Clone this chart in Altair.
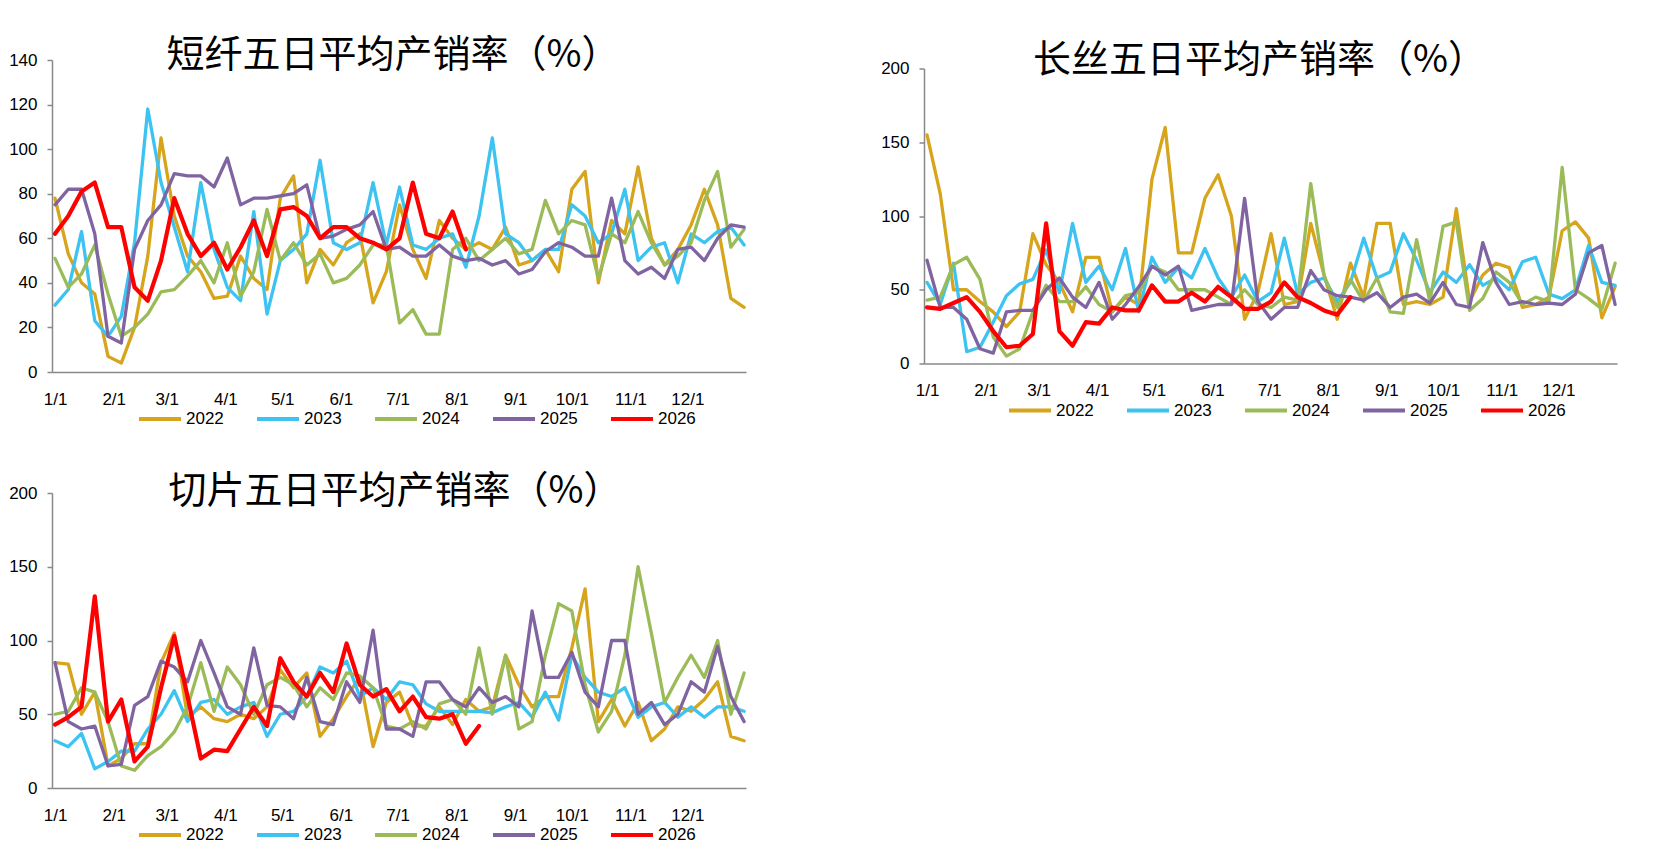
import altair as alt
import pandas as pd

# ---- shared axes / categories ----
DAYS = list(range(0, 365, 7))  # day-of-year sample points (0 = 1/1)
YEARS = ["2022", "2023", "2024", "2025", "2026"]
COLORS = ["#D6A51C", "#3DC3F1", "#9BBB59", "#8064A2", "#FF0000"]
MONTH_TICKS = [0, 31, 59, 90, 120, 151, 181, 212, 243, 273, 304, 334]
TITLES = ["短纤五日平均产销率（%）", "长丝五日平均产销率（%）", "切片五日平均产销率（%）"]

# ---- 短纤 (PSF) ----
PSF_2022 = [78, 53, 40, 35, 7, 4, 20, 52, 105, 70, 52, 45, 33, 34, 52, 42, 37, 78, 88, 40,
            55, 48, 58, 62, 31, 45, 75, 55, 42, 68, 60, 55, 58, 55, 65, 48, 50, 55, 45, 82,
            90, 40, 68, 62, 92, 60, 48, 55, 66, 82, 66, 33, 29]
PSF_2023 = [30, 37, 63, 23, 16, 25, 58, 118, 85, 65, 45, 85, 55, 38, 32, 72, 26, 50, 55, 62,
            95, 58, 55, 58, 85, 57, 83, 57, 55, 60, 62, 47, 70, 105, 62, 58, 50, 55, 55, 75,
            70, 58, 62, 82, 50, 56, 58, 40, 62, 58, 63, 65, 57]
PSF_2024 = [51, 38, 44, 57, 35, 16, 20, 26, 36, 37, 43, 50, 40, 58, 34, 45, 73, 50, 58, 48,
            53, 40, 42, 48, 57, 57, 22, 28, 17, 17, 55, 60, 50, 55, 60, 53, 55, 77, 62, 68,
            66, 42, 62, 58, 72, 58, 48, 52, 58, 77, 90, 56, 64]
PSF_2025 = [75, 82, 82, 62, 16, 13, 55, 68, 75, 89, 88, 88, 83, 96, 75, 78, 78, 79, 80, 84,
            60, 61, 64, 66, 72, 55, 56, 52, 52, 57, 52, 50, 51, 48, 50, 44, 46, 54, 58, 56,
            52, 52, 78, 50, 44, 47, 42, 55, 56, 50, 60, 66, 65]
PSF_2026 = [62, 70, 81, 85, 65, 65, 38, 32, 50, 78, 62, 52, 58, 46, 56, 68, 52, 73, 74, 70,
            60, 65, 65, 60, 58, 55, 60, 85, 62, 60, 72, 55]

# ---- 长丝 (filament) ----
FIL_2022 = [155, 115, 50, 50, 42, 35, 25, 35, 88, 67, 55, 35, 72, 72, 35, 45, 40, 125, 160, 75,
            75, 112, 128, 100, 30, 48, 88, 40, 42, 95, 60, 30, 68, 45, 95, 95, 40, 42, 40, 45,
            105, 42, 60, 68, 65, 38, 40, 45, 90, 96, 85, 31, 52]
FIL_2023 = [55, 40, 68, 8, 11, 28, 46, 54, 57, 77, 48, 95, 55, 66, 50, 78, 35, 72, 55, 65,
            58, 78, 58, 45, 60, 42, 48, 85, 47, 55, 58, 42, 55, 85, 58, 62, 88, 70, 48, 62,
            55, 67, 53, 58, 50, 69, 72, 47, 44, 50, 80, 55, 53]
FIL_2024 = [43, 45, 67, 72, 57, 18, 5, 10, 35, 53, 42, 42, 52, 40, 35, 46, 48, 66, 62, 50,
            50, 50, 45, 40, 50, 40, 38, 45, 43, 122, 60, 38, 57, 42, 58, 35, 34, 84, 42, 93,
            96, 36, 44, 62, 55, 40, 45, 42, 133, 50, 44, 37, 68]
FIL_2025 = [70, 38, 38, 30, 10, 7, 35, 36, 36, 50, 58, 45, 38, 55, 30, 40, 52, 66, 60, 66,
            36, 38, 40, 40, 112, 42, 30, 38, 38, 63, 50, 46, 45, 43, 48, 38, 45, 47, 41, 55,
            40, 38, 82, 55, 40, 42, 40, 41, 40, 47, 75, 80, 40]
FIL_2026 = [38, 37, 41, 45, 35, 22, 11, 12, 20, 95, 22, 12, 28, 27, 38, 36, 36, 53, 42, 42,
            48, 42, 52, 45, 37, 37, 42, 55, 45, 41, 36, 33, 45]

# ---- 切片 (chips) ----
CHIP_2022 = [85, 84, 50, 65, 15, 20, 30, 30, 85, 105, 48, 55, 47, 45, 50, 47, 55, 80, 68, 78,
             35, 47, 62, 75, 28, 58, 65, 42, 42, 55, 43, 60, 52, 55, 90, 70, 55, 62, 62, 95,
             135, 45, 60, 42, 58, 32, 40, 55, 52, 60, 72, 35, 32]
CHIP_2023 = [32, 28, 37, 13, 18, 25, 25, 40, 50, 66, 45, 58, 60, 50, 55, 58, 35, 50, 52, 62,
             82, 78, 86, 62, 68, 60, 72, 70, 57, 52, 52, 52, 52, 51, 55, 58, 48, 65, 46, 90,
             75, 65, 62, 68, 48, 55, 58, 48, 55, 48, 55, 55, 52]
CHIP_2024 = [50, 52, 68, 65, 45, 15, 12, 22, 28, 38, 55, 85, 52, 82, 70, 50, 70, 75, 70, 55,
             68, 60, 78, 76, 68, 42, 40, 45, 40, 57, 60, 50, 95, 50, 90, 40, 45, 90, 125, 120,
             70, 38, 52, 90, 150, 105, 58, 75, 90, 75, 100, 50, 78]
CHIP_2025 = [85, 45, 40, 42, 15, 16, 56, 62, 86, 82, 72, 100, 78, 55, 50, 95, 56, 55, 47, 75,
             45, 43, 72, 58, 107, 40, 40, 35, 72, 72, 60, 55, 68, 58, 62, 55, 120, 75, 75, 92,
             65, 55, 100, 100, 50, 58, 43, 50, 72, 65, 96, 62, 45]
CHIP_2026 = [43, 48, 55, 130, 45, 60, 18, 28, 68, 103, 62, 20, 26, 25, 40, 55, 42, 88, 72, 62,
             78, 65, 98, 70, 62, 67, 52, 62, 48, 47, 50, 30, 42]

LABEL_FONT = "Liberation Sans"
TITLE_FONT = "Noto Sans CJK SC"
AXIS_GRAY = "#898989"


def panel_df(series):
    rows = []
    for year, vals in zip(YEARS, series):
        for d, v in zip(DAYS, vals):
            rows.append({"day": d, "value": v, "year": year})
    return pd.DataFrame(rows)


def panel(series, title, width, height, ymax, ystep, title_dx, title_offset,
          legend_x, legend_y):
    df = panel_df(series)
    base = alt.Chart(df)
    x = alt.X(
        "day:Q",
        title=None,
        scale=alt.Scale(domain=[-1.6, 365], nice=False, zero=False),
        axis=alt.Axis(
            values=MONTH_TICKS,
            labelExpr="timeFormat(datetime(2023, 0, 1 + datum.value), '%-m/%-d')",
            ticks=False,
            tickSize=0,
            grid=False,
            labelPadding=19,
            labelOverlap=False,
            labelFlush=False,
            labelBound=False,
        ),
    )
    y = alt.Y(
        "value:Q",
        title=None,
        scale=alt.Scale(domain=[0, ymax], nice=False, zero=True),
        axis=alt.Axis(
            values=list(range(0, ymax + 1, ystep)),
            grid=False,
            ticks=True,
            tickSize=5,
            labelPadding=10,
            labelOverlap=False,
            labelFlush=False,
        ),
    )
    color = alt.Color(
        "year:N",
        scale=alt.Scale(domain=YEARS, range=COLORS),
        legend=alt.Legend(
            orient="none",
            legendX=legend_x,
            legendY=legend_y,
            direction="horizontal",
            title=None,
            symbolType="M-3,0H3",
            symbolSize=196,
            symbolStrokeWidth=4,
            labelOffset=17,
            columnPadding=25,
            padding=0,
        ),
    )
    layers = []
    for yr in YEARS:
        layers.append(
            base.transform_filter(alt.datum.year == yr)
            .mark_line(strokeWidth=4.2 if yr == "2026" else 3.3,
                       strokeJoin="round", strokeCap="round")
            .encode(x=x, y=y, color=color)
        )
    return alt.layer(*layers).properties(
        width=width,
        height=height,
        title=alt.TitleParams(
            text=title,
            font=TITLE_FONT,
            fontSize=38,
            fontWeight="normal",
            color="black",
            anchor="middle",
            baseline="middle",
            dx=title_dx,
            offset=title_offset,
        ),
    )


p1 = panel([PSF_2022, PSF_2023, PSF_2024, PSF_2025, PSF_2026], TITLES[0],
           694, 312, 140, 20, -6, -43, 99, 350)
p2 = panel([FIL_2022, FIL_2023, FIL_2024, FIL_2025, FIL_2026], TITLES[1],
           693, 295, 200, 50, -11, -39, 97, 333)
p3 = panel([CHIP_2022, CHIP_2023, CHIP_2024, CHIP_2025, CHIP_2026], TITLES[2],
           694, 295, 200, 50, -4, -46, 99, 333)

chart = (
    alt.concat(p1, p2, p3, columns=2, spacing={"row": 121, "column": 178},
               bounds="flush", center=True)
    .resolve_scale(color="independent")
    .resolve_legend(color="independent")
    .properties(padding={"left": 0, "top": 28, "right": 0, "bottom": 0})
    .configure_view(stroke="transparent")
    .configure_axis(
        labelFont=LABEL_FONT,
        labelFontSize=17,
        labelColor="black",
        domainColor=AXIS_GRAY,
        domainWidth=1.5,
        tickColor=AXIS_GRAY,
        tickWidth=1.5,
    )
    .configure_legend(
        labelFont=LABEL_FONT,
        labelFontSize=17,
        labelColor="black",
    )
)

chart.save("out.html", embed_options={"renderer": "svg", "actions": False})
